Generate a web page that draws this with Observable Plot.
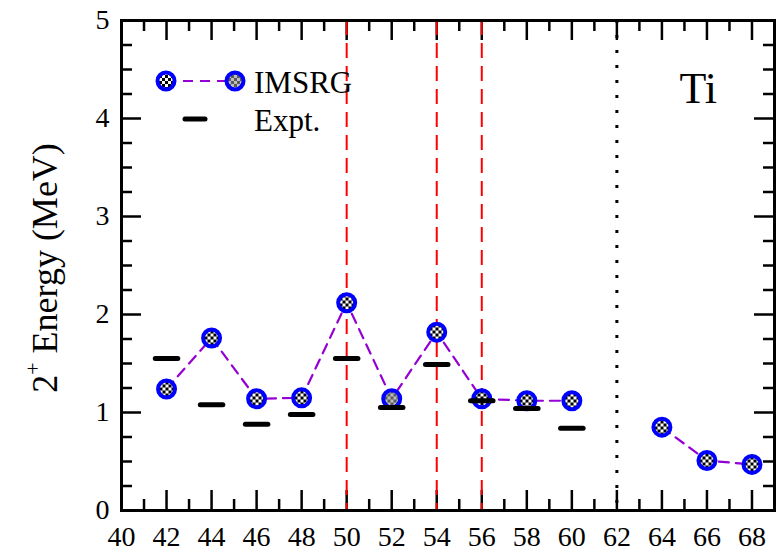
<!DOCTYPE html>
<html>
<head>
<meta charset="utf-8">
<script src="https://cdn.jsdelivr.net/npm/d3@7"></script>
<script src="https://cdn.jsdelivr.net/npm/@observablehq/plot@0.6"></script>
<style>
  html, body { margin: 0; padding: 0; background: #fff; }
  svg { display: block; }
</style>
</head>
<body>
<div id="chart"></div>
<script>
// ---- data ----
const massIMSRG = [42, 44, 46, 48, 50, 52, 54, 56, 58, 60, 62, 64, 66, 68];
const energyIMSRG = [1.24, 1.76, 1.14, 1.15, 2.12, 1.14, 1.82, 1.14, 1.12, 1.12, null, 0.85, 0.51, 0.47];
const grayMarkerMass = [52];
const massExpt = [42, 44, 46, 48, 50, 52, 54, 56, 58, 60];
const energyExpt = [1.55, 1.08, 0.88, 0.98, 1.55, 1.05, 1.49, 1.12, 1.04, 0.84];
const shellClosures = [50, 54, 56];
const dripLine = [62];
const xTickLabels = [40, 42, 44, 46, 48, 50, 52, 54, 56, 58, 60, 62, 64, 66, 68];
const xMinorTicks = [41, 43, 45, 47, 49, 51, 53, 55, 57, 59, 61, 63, 65, 67];
const yTickLabels = [0, 1, 2, 3, 4, 5];
const yMinorTicks = [0.25, 0.5, 0.75, 1.25, 1.5, 1.75, 2.25, 2.5, 2.75, 3.25, 3.5, 3.75, 4.25, 4.5, 4.75];
const elementLabel = "Ti";
const seriesNames = ["IMSRG", "Expt."];

const imsrg = massIMSRG.map((m, i) => ({mass: m, e: energyIMSRG[i]}));
const expt = massExpt.map((m, i) => ({mass: m, e: energyExpt[i]}));
const imsrgPts = imsrg.filter(d => d.e != null);

const W = 776, H = 554;
const mL = 121, mR = 2, mT = 20, mB = 44;
const innerW = W - mL - mR, innerH = H - mT - mB;
const fontCss = "'Liberation Serif', 'Times New Roman', Times, serif";
const majorLen = 20, minorLen = 11;

const plot = Plot.plot({
  width: W, height: H,
  marginLeft: mL, marginRight: mR, marginTop: mT, marginBottom: mB,
  style: {background: "#fff", color: "#000", overflow: "visible"},
  x: {domain: [40, 69]},
  y: {domain: [0, 5]},
  marks: [
    // ticks inward on all four sides
    Plot.ruleX(xTickLabels, {x: d => d, insetTop: innerH - majorLen, stroke: "#000", strokeWidth: 2.5}),
    Plot.ruleX(xMinorTicks, {x: d => d, insetTop: innerH - minorLen, stroke: "#000", strokeWidth: 2.5}),
    Plot.ruleX(xTickLabels, {x: d => d, insetBottom: innerH - majorLen, stroke: "#000", strokeWidth: 2.5}),
    Plot.ruleX(xMinorTicks, {x: d => d, insetBottom: innerH - minorLen, stroke: "#000", strokeWidth: 2.5}),
    Plot.ruleY(yTickLabels, {y: d => d, insetRight: innerW - majorLen, stroke: "#000", strokeWidth: 2.5}),
    Plot.ruleY(yMinorTicks, {y: d => d, insetRight: innerW - minorLen, stroke: "#000", strokeWidth: 2.5}),
    Plot.ruleY(yTickLabels, {y: d => d, insetLeft: innerW - majorLen, stroke: "#000", strokeWidth: 2.5}),
    Plot.ruleY(yMinorTicks, {y: d => d, insetLeft: innerW - minorLen, stroke: "#000", strokeWidth: 2.5}),
    // vertical reference lines
    Plot.ruleX(shellClosures, {x: d => d, stroke: "#ff0000", strokeWidth: 2, strokeDasharray: "15,8"}),
    Plot.ruleX(dripLine, {x: d => d, stroke: "#000", strokeWidth: 3, strokeDasharray: "3,12"}),
    // IMSRG
    Plot.line(imsrg, {x: "mass", y: "e", stroke: "#9400d3", strokeWidth: 2.2, strokeDasharray: "10,7"}),
    Plot.dot(imsrgPts.filter(d => !grayMarkerMass.includes(d.mass)), {x: "mass", y: "e", r: 8.5, stroke: "#0000ff", strokeWidth: 4, fill: "url(#chk)"}),
    Plot.dot(imsrgPts.filter(d => grayMarkerMass.includes(d.mass)), {x: "mass", y: "e", r: 8.5, stroke: "#0000ff", strokeWidth: 4, fill: "url(#chkg)"}),
    // Expt
    Plot.link(expt, {x1: d => d.mass - 0.5, x2: d => d.mass + 0.5, y1: "e", y2: "e", stroke: "#000", strokeWidth: 5, strokeLinecap: "round"}),
    // axes labels
    Plot.axisX(xTickLabels, {tickSize: 0, tickPadding: 16, fontSize: 28, tickFormat: d => String(d), label: null}),
    Plot.axisY(yTickLabels, {tickSize: 0, tickPadding: 12, fontSize: 28, tickFormat: d => String(d), label: null}),
    Plot.frame({stroke: "#000", strokeWidth: 3})
  ]
});

const svg = d3.select(plot);
const defs = svg.insert("defs", ":first-child");
function checker(id, light, dark) {
  const p = defs.append("pattern").attr("id", id).attr("width", 6).attr("height", 6).attr("patternUnits", "userSpaceOnUse");
  p.append("rect").attr("width", 6).attr("height", 6).attr("fill", light);
  p.append("rect").attr("width", 3).attr("height", 3).attr("fill", dark);
  p.append("rect").attr("x", 3).attr("y", 3).attr("width", 3).attr("height", 3).attr("fill", dark);
}
checker("chk", "#fff", "#000");
checker("chkg", "#bdbdbd", "#5a5a5a");

// legend
const lg = svg.append("g");
lg.append("line").attr("x1", 166).attr("x2", 235).attr("y1", 81).attr("y2", 81)
  .attr("stroke", "#9400d3").attr("stroke-width", 2.2).attr("stroke-dasharray", "10,7");
lg.append("circle").attr("cx", 166).attr("cy", 81).attr("r", 8.5).attr("stroke", "#0000ff").attr("stroke-width", 4).attr("fill", "url(#chk)");
lg.append("circle").attr("cx", 235).attr("cy", 81).attr("r", 8.5).attr("stroke", "#0000ff").attr("stroke-width", 4).attr("fill", "url(#chkg)");
lg.append("text").attr("x", 254).attr("y", 93).attr("font-size", 31).attr("text-anchor", "start").text(seriesNames[0]);
lg.append("line").attr("x1", 185).attr("x2", 205).attr("y1", 119).attr("y2", 119)
  .attr("stroke", "#000").attr("stroke-width", 5).attr("stroke-linecap", "round");
lg.append("text").attr("x", 254).attr("y", 131).attr("font-size", 31).attr("text-anchor", "start").text(seriesNames[1]);

// element label
svg.append("text").attr("x", 717).attr("y", 103).attr("text-anchor", "end")
  .attr("font-size", 44).text(elementLabel);

// y-axis label
const yl = svg.append("text").attr("transform", "translate(57,268) rotate(-90)")
  .attr("text-anchor", "middle").attr("font-size", 36);
yl.append("tspan").text("2");
yl.append("tspan").attr("font-size", 22).attr("dy", -17).text("+");
yl.append("tspan").attr("dy", 17).text(" Energy (MeV)");

// serif face on every text element
svg.selectAll("text, tspan").attr("font-family", fontCss).style("font-family", fontCss).style("font-weight", "normal");

document.getElementById("chart").appendChild(plot);
</script>
</body>
</html>
